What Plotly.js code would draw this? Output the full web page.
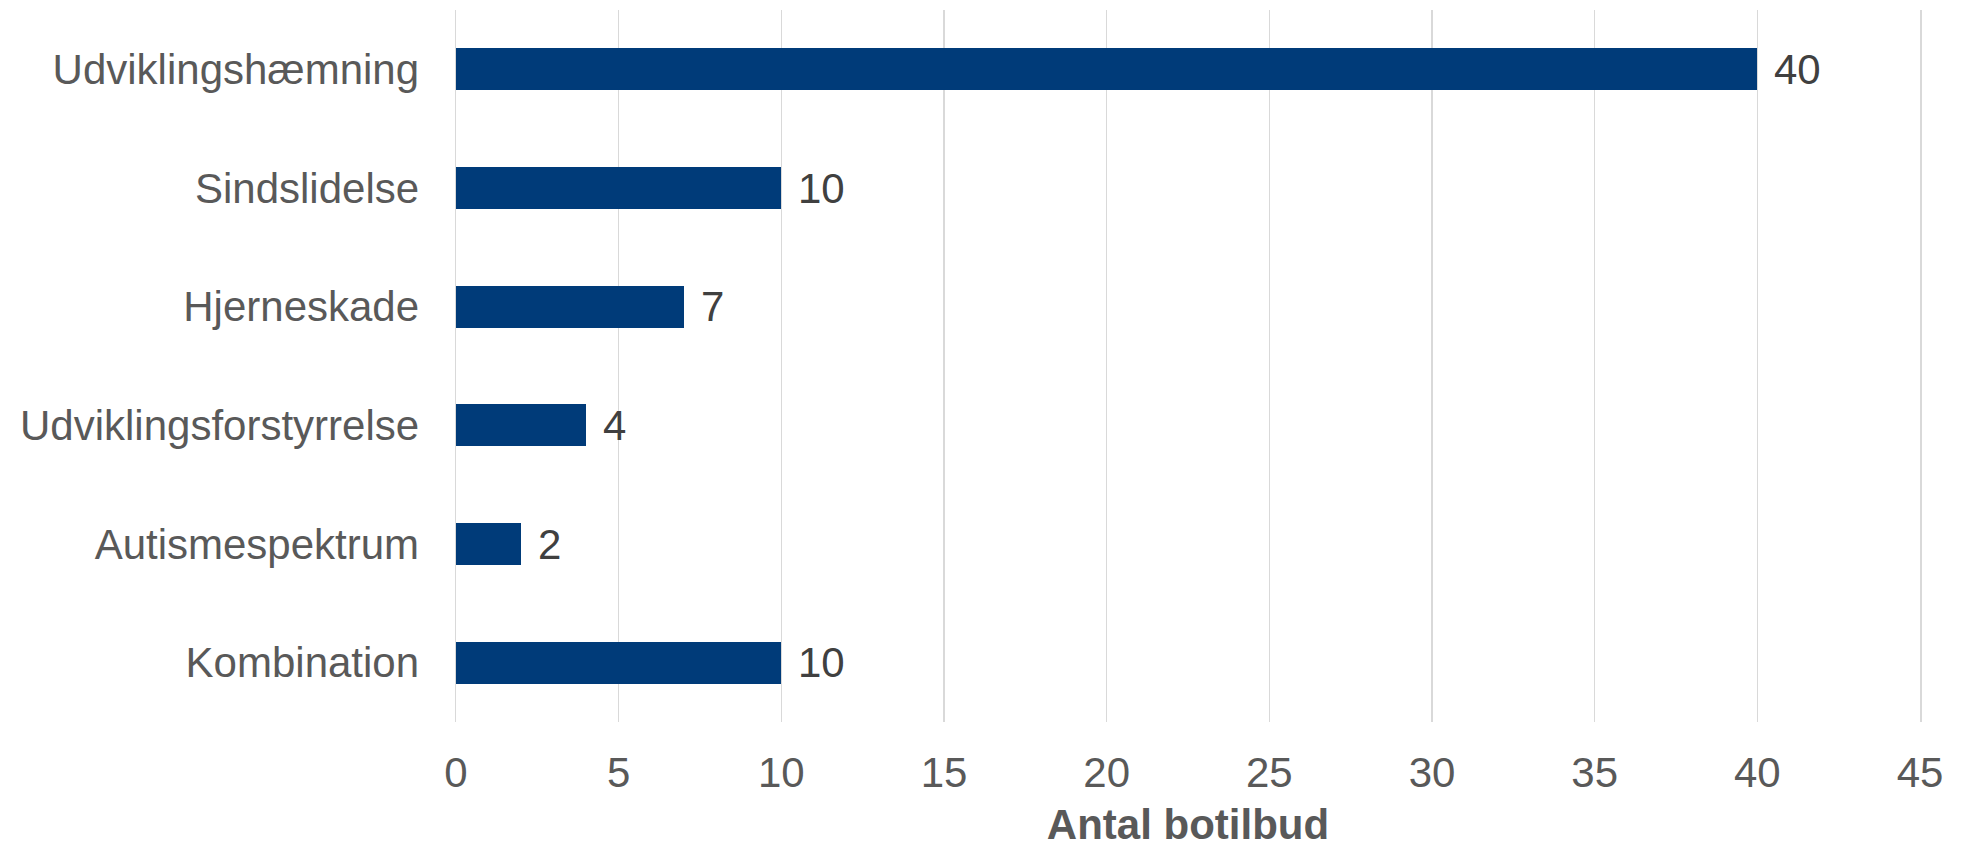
<!DOCTYPE html>
<html>
<head>
<meta charset="utf-8">
<script src="https://cdn.plot.ly/plotly-3.0.1.min.js"></script>
<style>html,body{margin:0;padding:0;background:#fff;}#chart{width:1970px;height:848px;}</style>
</head>
<body>
<div id="chart"></div>
<script>
const categories = ["Udviklingshæmning", "Sindslidelse", "Hjerneskade", "Udviklingsforstyrrelse", "Autismespektrum", "Kombination"];
const values = [40, 10, 7, 4, 2, 10];
const xTicks = [0, 5, 10, 15, 20, 25, 30, 35, 40, 45];
const xTitle = "Antal botilbud";

const FONT = "Liberation Sans, Arial, sans-serif";

const trace = {
  type: "bar",
  orientation: "h",
  y: categories,
  x: values,
  width: 0.354,
  marker: { color: "#003B79", line: { width: 0 } },
  hoverinfo: "none",
  cliponaxis: false
};

const annotations = categories.map((c, i) => ({
  x: values[i], y: c, xref: "x", yref: "y",
  text: String(values[i]), showarrow: false,
  xanchor: "left", yanchor: "middle", xshift: 15,
  font: { family: FONT, size: 42, color: "#404040" }
}));

const layout = {
  width: 1970, height: 848,
  margin: { l: 456, r: 50, t: 10, b: 126, pad: 0 },
  paper_bgcolor: "#ffffff", plot_bgcolor: "#ffffff",
  showlegend: false,
  bargap: 0,
  xaxis: {
    range: [0, 45],
    tickvals: xTicks,
    ticktext: xTicks.map(String),
    showgrid: true, gridcolor: "#D9D9D9", gridwidth: 1.5,
    zeroline: false,
    showline: false,
    ticks: "", ticklabelstandoff: 22,
    tickfont: { family: FONT, size: 42, color: "#595959" },
    title: { text: "<b>" + xTitle + "</b>", standoff: 20, font: { family: FONT, size: 42, color: "#595959" } },
    fixedrange: true
  },
  yaxis: {
    type: "category",
    autorange: "reversed",
    showgrid: false, zeroline: false,
    showline: true, mirror: true, linecolor: "#D9D9D9", linewidth: 1.5,
    ticks: "", ticklabelstandoff: 27,
    tickfont: { family: FONT, size: 42, color: "#595959" },
    fixedrange: true
  },
  annotations: annotations
};

Plotly.newPlot("chart", [trace], layout, { staticPlot: true, displayModeBar: false });
</script>
</body>
</html>
